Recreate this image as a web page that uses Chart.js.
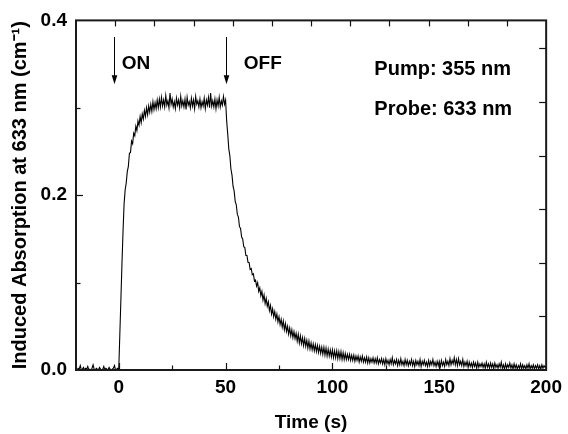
<!DOCTYPE html>
<html>
<head>
<meta charset="utf-8">
<script src="https://cdn.jsdelivr.net/npm/chart.js@4.4.1/dist/chart.umd.min.js"></script>
<style>
	html, body { margin: 0; padding: 0; background: #fff; }
	canvas { display: block; }
</style>
</head>
<body>
<canvas id="chart" width="568" height="434"></canvas>
<script>
// Sampling grid of the recorded trace (s)
const T_START = -20;
const T_STEP = 0.5;

// Induced absorption, in 1e-3 cm^-1, one value per sample
const absorbMilli = [
	// -20 .. -0.5 s : baseline, pump off
	1, 0, 2, 1, 5, 0, 1, 3, 0, 2,
	1, 4, 0, 1, 0, 2, 6, 1, 0, 2,
	1, 0, 3, 1, 0, 1, 4, 0, 2, 1,
	0, 3, 1, 0, 1, 2, 5, 0, 1, 2,
	// 0 .. 19.5 s : build-up
	0, 40, 80, 121, 158, 190, 206, 214, 227, 233,
	248, 249, 262, 259, 271, 268, 279, 274, 285, 280,
	290, 283, 293, 287, 297, 290, 300, 292, 302, 295,
	304, 296, 307, 298, 306, 299, 309, 300, 310, 301,
	// 20 .. 49.5 s : saturation
	312, 302, 309, 301, 314, 303, 308, 300, 317, 304,
	310, 301, 307, 299, 311, 303, 309, 300, 313, 302,
	308, 301, 310, 298, 312, 303, 307, 300, 311, 302,
	309, 299, 313, 304, 308, 301, 310, 300, 307, 302,
	311, 299, 309, 303, 312, 300, 317, 302, 308, 301,
	310, 299, 309, 302, 312, 301, 308, 303, 313, 304,
	// 50 .. 105.5 s : decay after pump off
	309, 285, 270, 253, 245, 230, 223, 210, 205, 193,
	189, 178, 175, 164, 162, 152, 150, 141, 140, 131,
	131, 123, 123, 115, 116, 109, 110, 102, 103, 96,
	100, 90, 94, 85, 90, 80, 86, 76, 82, 73,
	78, 68, 74, 64, 70, 61, 67, 58, 64, 55,
	61, 52, 58, 49, 56, 46, 53, 44, 50, 41,
	48, 39, 46, 37, 44, 36, 42, 33, 41, 31,
	39, 30, 37, 28, 36, 27, 34, 25, 33, 24,
	31, 23, 30, 22, 29, 21, 28, 20, 27, 19,
	26, 18, 26, 17, 25, 16, 24, 16, 23, 15,
	23, 14, 22, 14, 22, 13, 21, 13, 21, 12,
	20, 12,
	// 106 .. 119.5 s
	19, 12, 18, 12, 18, 11, 17, 11, 17, 10,
	16, 11, 16, 9, 15, 10, 16, 9, 14, 9,
	15, 8, 14, 8, 13, 9, 14, 8,
	// 120 .. 149.5 s
	13, 8, 14, 7, 12, 8, 13, 7, 12, 6,
	13, 7, 11, 6, 12, 7, 14, 6, 11, 7,
	12, 5, 11, 6, 13, 6, 10, 5, 12, 6,
	11, 5, 10, 6, 12, 5, 10, 4, 11, 6,
	10, 5, 12, 4, 10, 6, 11, 5, 9, 4,
	11, 5, 10, 6, 12, 5, 9, 4, 10, 5,
	// 150 .. 200 s
	10, 4, 11, 5, 9, 4, 12, 6, 10, 5,
	13, 6, 11, 7, 14, 6, 12, 5, 13, 6,
	10, 5, 12, 4, 9, 5, 10, 3, 9, 4,
	8, 3, 9, 4, 8, 2, 9, 3, 7, 4,
	8, 3, 7, 2, 9, 3, 7, 2, 8, 3,
	7, 2, 8, 3, 6, 2, 7, 3, 9, 2,
	6, 1, 7, 2, 6, 3, 8, 2, 6, 1,
	7, 2, 6, 1, 5, 2, 7, 1, 6, 2,
	5, 1, 6, 2, 7, 1, 5, 2, 6, 1,
	5, 2, 6, 1, 5, 1, 6, 2, 5, 3,
	4,
];

// Tick positions; labels only on the "major" ones
const xTickValues = [0, 25, 50, 75, 100, 125, 150, 175, 200];
const xLabelValues = [0, 50, 100, 150, 200];
const yTickValues = [0, 0.1, 0.2, 0.3, 0.4];
const yLabelValues = [0.0, 0.2, 0.4];

// Pump switching marks (time in s) and their captions
const switchTimes = [-2.4, 50];
const switchLabels = ["ON", "OFF"];
const switchLabelTimes = [1.4, 58.5];

const infoLines = ["Pump: 355 nm", "Probe: 633 nm"];

const FONT = "'Liberation Sans', Arial, Helvetica, sans-serif";
Chart.defaults.font.family = FONT;
Chart.defaults.font.weight = "bold";
Chart.defaults.color = "#000";

const points = absorbMilli.map((v, i) => ({ x: T_START + i * T_STEP, y: v / 1000 }));
const near = (v, w) => Math.abs(v - w) < 1e-6;

// Frame, inward tick marks and the ON/OFF / pump-probe notes
const framePlugin = {
	id: "frame",
	afterDraw(chart) {
		const { ctx, chartArea: a, scales } = chart;
		ctx.save();
		ctx.strokeStyle = "#111";
		ctx.lineWidth = 1.2;

		// bottom x
		scales.x.ticks.forEach((t) => {
			const v = t.value;
			if (near(v, scales.x.min) || near(v, scales.x.max)) return;
			const len = xLabelValues.some((m) => near(m, v)) ? 7 : 4.5;
			const px = Math.round(scales.x.getPixelForValue(v)) + 0.5;
			ctx.beginPath();
			ctx.moveTo(px, a.bottom);
			ctx.lineTo(px, a.bottom - len);
			ctx.stroke();
		});
		// top x (own division)
		scales.x2.ticks.forEach((t) => {
			if (near(t.value, scales.x2.min) || near(t.value, scales.x2.max)) return;
			const px = Math.round(scales.x2.getPixelForValue(t.value)) + 0.5;
			ctx.beginPath();
			ctx.moveTo(px, a.top);
			ctx.lineTo(px, a.top + 6);
			ctx.stroke();
		});
		// left y
		scales.y.ticks.forEach((t) => {
			const v = t.value;
			if (near(v, scales.y.min) || near(v, scales.y.max)) return;
			const len = yLabelValues.some((m) => near(m, v)) ? 7 : 4.5;
			const py = Math.round(scales.y.getPixelForValue(v)) + 0.5;
			ctx.beginPath();
			ctx.moveTo(a.left, py);
			ctx.lineTo(a.left + len, py);
			ctx.stroke();
		});
		// right y (own division)
		scales.y2.ticks.forEach((t) => {
			if (near(t.value, scales.y2.min) || t.value > scales.y2.max - 0.3) return;
			const py = Math.round(scales.y2.getPixelForValue(t.value)) + 0.5;
			ctx.beginPath();
			ctx.moveTo(a.right, py);
			ctx.lineTo(a.right - 7, py);
			ctx.stroke();
		});

		// box
		ctx.lineWidth = 2;
		ctx.strokeStyle = "#1a1a1a";
		ctx.strokeRect(a.left, a.top, a.right - a.left, a.bottom - a.top);

		// switching arrows
		const x = scales.x;
		const y = scales.y;
		ctx.fillStyle = "#000";
		ctx.strokeStyle = "#000";
		ctx.lineWidth = 1;
		switchTimes.forEach((t) => {
			const px = Math.round(x.getPixelForValue(t)) + 0.5;
			const y0 = y.getPixelForValue(0.381);
			const y1 = y.getPixelForValue(0.327);
			ctx.beginPath();
			ctx.moveTo(px, y0);
			ctx.lineTo(px, y1 - 6);
			ctx.stroke();
			ctx.beginPath();
			ctx.moveTo(px - 2.8, y1 - 9);
			ctx.lineTo(px + 2.8, y1 - 9);
			ctx.lineTo(px, y1);
			ctx.closePath();
			ctx.fill();
		});

		ctx.textAlign = "left";
		ctx.textBaseline = "alphabetic";
		ctx.font = "bold 19px " + FONT;
		switchLabels.forEach((s, i) => {
			ctx.fillText(s, x.getPixelForValue(switchLabelTimes[i]), y.getPixelForValue(0.344));
		});
		ctx.font = "bold 20px " + FONT;
		ctx.fillText(infoLines[0], x.getPixelForValue(119.6), y.getPixelForValue(0.338));
		ctx.fillText(infoLines[1], x.getPixelForValue(119.6), y.getPixelForValue(0.2917));
		ctx.restore();
	},
};

new Chart(document.getElementById("chart"), {
	type: "line",
	data: {
		datasets: [
			{
				data: points,
				borderColor: "#000",
				borderWidth: 1.1,
				pointRadius: 0,
				tension: 0,
				fill: false,
			},
		],
	},
	options: {
		responsive: false,
		animation: false,
		devicePixelRatio: 1,
		layout: { padding: { left: 0, right: 18, top: 18, bottom: 0 } },
		plugins: { legend: { display: false }, tooltip: { enabled: false } },
		scales: {
			x: {
				type: "linear",
				position: "bottom",
				min: -20,
				max: 200,
				grid: { display: false, drawTicks: false },
				border: { display: false },
				afterBuildTicks: (s) => {
					s.ticks = xTickValues.map((value) => ({ value }));
				},
				ticks: {
					autoSkip: false,
					maxRotation: 0,
					padding: 6,
					font: { size: 19, weight: "bold" },
					callback: (v) => (xLabelValues.some((m) => near(m, v)) ? String(v) : ""),
				},
				title: {
					display: true,
					text: "Time (s)",
					font: { size: 19, weight: "bold" },
					padding: { top: 0, bottom: 0 },
				},
				afterFit: (s) => {
					s.height = 64;
				},
			},
			x2: {
				type: "linear",
				position: "top",
				min: 0,
				max: 12,
				grid: { display: false, drawTicks: false },
				border: { display: false },
				ticks: { display: false, stepSize: 1 },
			},
			y: {
				type: "linear",
				position: "left",
				min: 0,
				max: 0.4,
				grid: { display: false, drawTicks: false },
				border: { display: false },
				afterBuildTicks: (s) => {
					s.ticks = yTickValues.map((value) => ({ value }));
				},
				ticks: {
					autoSkip: false,
					padding: 9,
					font: { size: 19, weight: "bold" },
					callback: (v) => (yLabelValues.some((m) => near(m, v)) ? v.toFixed(1) : ""),
				},
				title: {
					display: true,
					text: "Induced Absorption at 633 nm (cm\u207B\u00B9)",
					font: { size: 20, weight: "bold" },
					padding: { top: 8, bottom: 0 },
				},
				afterFit: (s) => {
					s.width = 76;
				},
			},
			y2: {
				type: "linear",
				position: "right",
				min: 0,
				max: 6.52,
				grid: { display: false, drawTicks: false },
				border: { display: false },
				ticks: { display: false, stepSize: 1 },
			},
		},
	},
	plugins: [framePlugin],
});
</script>
</body>
</html>
